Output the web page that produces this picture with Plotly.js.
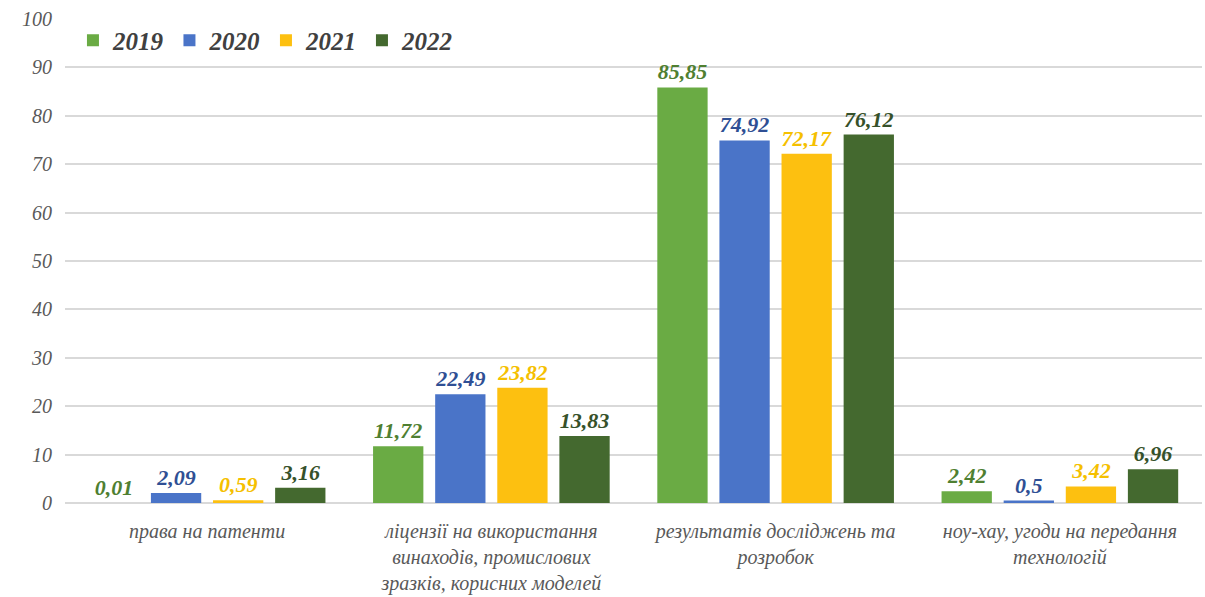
<!DOCTYPE html>
<html><head><meta charset="utf-8">
<script src="https://cdn.plot.ly/plotly-3.0.1.min.js"></script>
<style>body{margin:0;background:#fff}#c{width:1205px;height:597px}</style>
</head><body><div id="c"></div>
<script>
const categories = [
  "права на патенти",
  "ліцензії на використання<br>винаходів, промислових<br>зразків, корисних моделей",
  "результатів досліджень та<br>розробок",
  "ноу-хау, угоди на передання<br>технологій"
];
const years = ["2019", "2020", "2021", "2022"];
const v2019 = [0.01, 11.72, 85.85, 2.42];
const v2020 = [2.09, 22.49, 74.92, 0.5];
const v2021 = [0.59, 23.82, 72.17, 3.42];
const v2022 = [3.16, 13.83, 76.12, 6.96];
const series = [v2019, v2020, v2021, v2022];
const barColors = ["#6aab44", "#4a74c8", "#fdc010", "#44692f"];
const textColors = ["#4f7f31", "#2f4f94", "#f5c000", "#36512a"];

const fmt = v => String(v).replace('.', ',');
const traces = series.map((vals, i) => ({
  type: 'bar', name: years[i], x: categories, y: vals,
  marker: {color: barColors[i]},
  text: vals.map(fmt), textposition: 'outside', cliponaxis: false,
  textfont: {family: 'Liberation Serif', size: 22, color: textColors[i], weight: 'bold', style: 'italic'},
  hoverinfo: 'none'
}));

const layout = {
  width: 1205, height: 597,
  margin: {l: 65, r: 3, t: 19, b: 94},
  paper_bgcolor: '#fff', plot_bgcolor: '#fff',
  barmode: 'group', bargap: 0.126, bargroupgap: 0.19,
  showlegend: true,
  legend: {orientation: 'h', x: 0.007, y: 1.003, xanchor: 'left', yanchor: 'top',
    font: {family: 'Liberation Serif', size: 25, color: '#404040', weight: 'bold', style: 'italic'},
    bgcolor: 'rgba(0,0,0,0)', itemwidth: 30, traceorder: 'normal'},
  xaxis: {tickfont: {family: 'Liberation Serif', size: 20, color: '#595959', style: 'italic'},
    showgrid: false, showline: false, ticks: '', ticklabelstandoff: 14},
  yaxis: {range: [0, 100], dtick: 10, showgrid: true, gridcolor: '#d9d9d9', gridwidth: 2,
    zeroline: true, zerolinecolor: '#d9d9d9', zerolinewidth: 2,
    tickfont: {family: 'Liberation Serif', size: 20, color: '#595959', style: 'italic'},
    ticks: '', ticklabelstandoff: 12}
};
Plotly.newPlot('c', traces, layout, {displayModeBar: false, staticPlot: true});
</script></body></html>
